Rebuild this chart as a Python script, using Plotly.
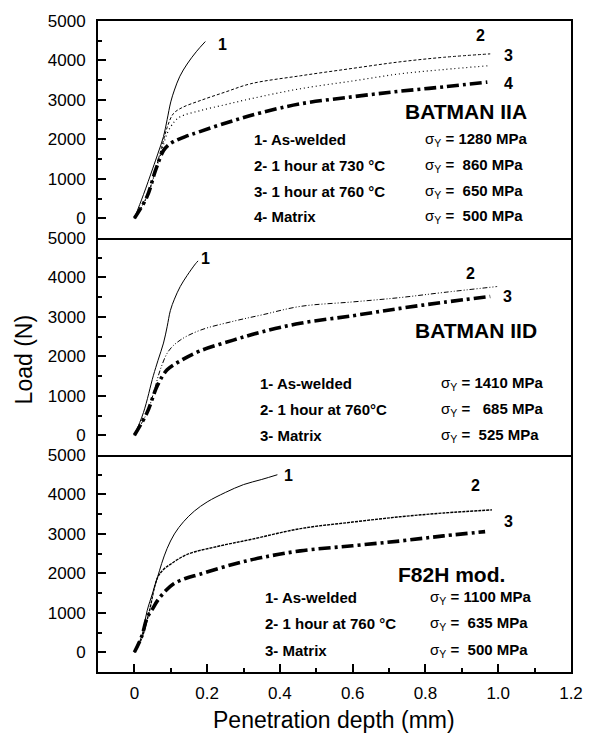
import plotly.graph_objects as go
from plotly.subplots import make_subplots

# ---------------- data ----------------
# BATMAN IIA
iia_c1_x = [0, 0.025, 0.05, 0.065, 0.08, 0.09, 0.1, 0.11, 0.125, 0.145, 0.17, 0.195]
iia_c1_y = [0, 600, 1250, 1650, 2070, 2500, 2950, 3250, 3600, 3910, 4220, 4480]
iia_c2_x = [0, 0.035, 0.06, 0.075, 0.09, 0.107, 0.13, 0.18, 0.25, 0.32, 0.456, 0.6, 0.73, 0.85, 0.978]
iia_c2_y = [0, 560, 1300, 1800, 2300, 2650, 2800, 2980, 3200, 3410, 3611, 3800, 3965, 4080, 4167]
iia_c3_x = [0, 0.035, 0.06, 0.075, 0.09, 0.11, 0.126, 0.18, 0.25, 0.32, 0.456, 0.6, 0.73, 0.85, 0.97]
iia_c3_y = [0, 560, 1250, 1700, 2150, 2450, 2575, 2727, 2880, 3030, 3283, 3480, 3661, 3770, 3864]
iia_c4_x = [0, 0.035, 0.058, 0.08, 0.095, 0.108, 0.14, 0.18, 0.272, 0.35, 0.456, 0.6, 0.73, 0.85, 0.97]
iia_c4_y = [0, 555, 1212, 1717, 1870, 1944, 2070, 2197, 2475, 2680, 2900, 3080, 3220, 3330, 3450]

# BATMAN IID
iid_c1_x = [0, 0.025, 0.052, 0.065, 0.08, 0.09, 0.099, 0.11, 0.126, 0.145, 0.168, 0.175]
iid_c1_y = [0, 578, 1508, 1900, 2337, 2750, 3166, 3450, 3769, 4050, 4347, 4420]
iid_c2_x = [0, 0.035, 0.055, 0.071, 0.094, 0.126, 0.181, 0.272, 0.35, 0.456, 0.6, 0.73, 0.85, 0.997]
iid_c2_y = [0, 578, 1150, 1658, 2136, 2412, 2663, 2890, 3050, 3266, 3380, 3490, 3620, 3770]
iid_c3_x = [0, 0.035, 0.063, 0.09, 0.126, 0.18, 0.272, 0.35, 0.456, 0.6, 0.73, 0.85, 0.978]
iid_c3_y = [0, 578, 1256, 1658, 1884, 2136, 2412, 2620, 2839, 3030, 3216, 3370, 3518]

# F82H mod.
f82_c1_x = [0, 0.02, 0.035, 0.05, 0.063, 0.075, 0.09, 0.11, 0.135, 0.165, 0.2, 0.25, 0.3, 0.35, 0.393]
f82_c1_y = [0, 400, 1052, 1500, 1880, 2250, 2632, 3000, 3308, 3580, 3810, 4050, 4250, 4380, 4500]
f82_c2_x = [0, 0.02, 0.04, 0.063, 0.08, 0.099, 0.145, 0.228, 0.319, 0.456, 0.6, 0.73, 0.85, 0.983]
f82_c2_y = [0, 350, 1000, 1880, 2100, 2230, 2481, 2682, 2857, 3133, 3300, 3434, 3530, 3609]
f82_c3_x = [0, 0.02, 0.035, 0.05, 0.063, 0.085, 0.107, 0.14, 0.18, 0.272, 0.35, 0.456, 0.6, 0.73, 0.85, 0.964]
f82_c3_y = [0, 400, 877, 1100, 1303, 1550, 1729, 1870, 1980, 2231, 2400, 2570, 2700, 2820, 2950, 3058]

panel_titles = ["BATMAN IIA", "BATMAN IID", "F82H mod."]
iia_items = ["1- As-welded", "2- 1 hour at 730 °C", "3- 1 hour at 760 °C", "4- Matrix"]
iia_sigma = ["1280", "\u00a0860", "\u00a0650", "\u00a0500"]
iid_items = ["1- As-welded", "2- 1 hour at 760°C", "3- Matrix"]
iid_sigma = ["1410", "\u00a0\u00a0685", "\u00a0525"]
f82_items = ["1- As-welded", "2- 1 hour at 760 °C", "3- Matrix"]
f82_sigma = ["1100", "\u00a0635", "\u00a0500"]

x_tickvals = [0, 0.2, 0.4, 0.6, 0.8, 1.0, 1.2]
x_ticktext = ["0", "0.2", "0.4", "0.6", "0.8", "1.0", "1.2"]
y_tickvals = [0, 1000, 2000, 3000, 4000, 5000]

# ---------------- styles ----------------
FONT = "Liberation Sans, Arial, sans-serif"
solid = dict(color="black", width=1)
thick = dict(color="black", width=3.6, dash="12px,4px,3px,4px")

fig = make_subplots(rows=3, cols=1, shared_xaxes=True, vertical_spacing=0)

def add(x, y, row, line):
    fig.add_trace(go.Scatter(x=x, y=y, mode="lines", line=line, line_shape="spline",
                             showlegend=False, hoverinfo="skip"), row=row, col=1)

add(iia_c1_x, iia_c1_y, 1, solid)
add(iia_c2_x, iia_c2_y, 1, dict(color="black", width=1, dash="3px,2px"))
add(iia_c3_x, iia_c3_y, 1, dict(color="black", width=1.2, dash="1px,3px"))
add(iia_c4_x, iia_c4_y, 1, thick)

add(iid_c1_x, iid_c1_y, 2, solid)
add(iid_c2_x, iid_c2_y, 2, dict(color="black", width=1, dash="5px,2px,1px,2px,1px,2px"))
add(iid_c3_x, iid_c3_y, 2, thick)

add(f82_c1_x, f82_c1_y, 3, solid)
add(f82_c2_x, f82_c2_y, 3, dict(color="black", width=1.4, dash="3px,1px"))
add(f82_c3_x, f82_c3_y, 3, thick)

# axes
for r in (1, 2, 3):
    fig.update_yaxes(row=r, col=1, range=[-500, 5000], tickvals=y_tickvals,
                     ticks="inside", ticklen=8, tickwidth=1.5, tickcolor="black",
                     minor=dict(ticks="inside", ticklen=4, dtick=500, tick0=0,
                                tickcolor="black", tickwidth=1.5),
                     showline=True, linecolor="black", linewidth=2, mirror=True,
                     showgrid=False, zeroline=False, ticklabelstandoff=7,
                     tickfont=dict(family=FONT, size=17, color="black"))
    fig.update_xaxes(row=r, col=1, range=[-0.1, 1.2], showline=True, linecolor="black",
                     linewidth=2, mirror=(r == 1), showgrid=False, zeroline=False)
for r in (1, 2):
    fig.update_xaxes(row=r, col=1, ticks="", showticklabels=False)
fig.update_xaxes(row=3, col=1, tickvals=x_tickvals, ticktext=x_ticktext, ticks="inside",
                 ticklen=8, tickwidth=1.5, tickcolor="black",
                 minor=dict(ticks="inside", ticklen=4, dtick=0.1, tick0=0,
                            tickcolor="black", tickwidth=1.5),
                 showticklabels=True, ticklabelstandoff=5,
                 tickfont=dict(family=FONT, size=17, color="black"))

ann = []
def txt(xr, yr, x, y, t, size=15, anchor="left"):
    ann.append(dict(xref=xr, yref=yr, x=x, y=y, text=t, showarrow=False, xanchor=anchor,
                    yanchor="middle", font=dict(family=FONT, size=size, color="black")))

def bold(t):
    return "<b>" + t + "</b>"

# panel 1
for i, (it, sg) in enumerate(zip(iia_items, iia_sigma)):
    yy = [2000, 1340, 680, 50][i]
    txt("x", "y", 0.324, yy, bold(it))
    txt("x", "y", 0.794, yy, "σ<sub>Y</sub>" + bold(" = " + sg + " MPa"))
txt("x", "y", 1.085, 2700, bold(panel_titles[0]), size=21, anchor="right")
for lab, xx, yy in [("1", 0.242, 4400), ("2", 0.95, 4620), ("3", 1.027, 4116), ("4", 1.027, 3409)]:
    txt("x", "y", xx, yy, bold(lab), size=16, anchor="center")

# panel 2
for i, (it, sg) in enumerate(zip(iid_items, iid_sigma)):
    yy = [1307, 653, 0][i]
    txt("x2", "y2", 0.341, yy, bold(it))
    txt("x2", "y2", 0.838, yy, "σ<sub>Y</sub>" + bold(" = " + sg + " MPa"))
txt("x2", "y2", 1.113, 2663, bold(panel_titles[1]), size=21, anchor="right")
for lab, xx, yy in [("1", 0.195, 4472), ("2", 0.923, 4095), ("3", 1.025, 3518)]:
    txt("x2", "y2", xx, yy, bold(lab), size=16, anchor="center")

# panel 3
for i, (it, sg) in enumerate(zip(f82_items, f82_sigma)):
    yy = [1378, 727, 50][i]
    txt("x3", "y3", 0.354, yy, bold(it))
    txt("x3", "y3", 0.808, yy, "σ<sub>Y</sub>" + bold(" = " + sg + " MPa"))
txt("x3", "y3", 1.025, 1980, bold(panel_titles[2]), size=21, anchor="right")
for lab, xx, yy in [("1", 0.423, 4486), ("2", 0.937, 4236), ("3", 1.027, 3308)]:
    txt("x3", "y3", xx, yy, bold(lab), size=16, anchor="center")

# axis titles
ann.append(dict(xref="paper", yref="paper", x=-0.156, y=0.479, text="Load (N)", textangle=-90,
                showarrow=False, xanchor="center", yanchor="middle",
                font=dict(family=FONT, size=23, color="black")))
ann.append(dict(xref="paper", yref="paper", x=0.499, y=-0.05, text="Penetration depth (mm)",
                showarrow=False, xanchor="center", yanchor="top",
                font=dict(family=FONT, size=23, color="black")))

fig.update_layout(width=596, height=737, margin=dict(l=98, r=25, t=17, b=65),
                  plot_bgcolor="white", paper_bgcolor="white", annotations=ann,
                  showlegend=False)

fig.write_html("out.html", config={"displayModeBar": False},
               post_script="document.body.style.margin='0';document.body.style.overflow='hidden';")
